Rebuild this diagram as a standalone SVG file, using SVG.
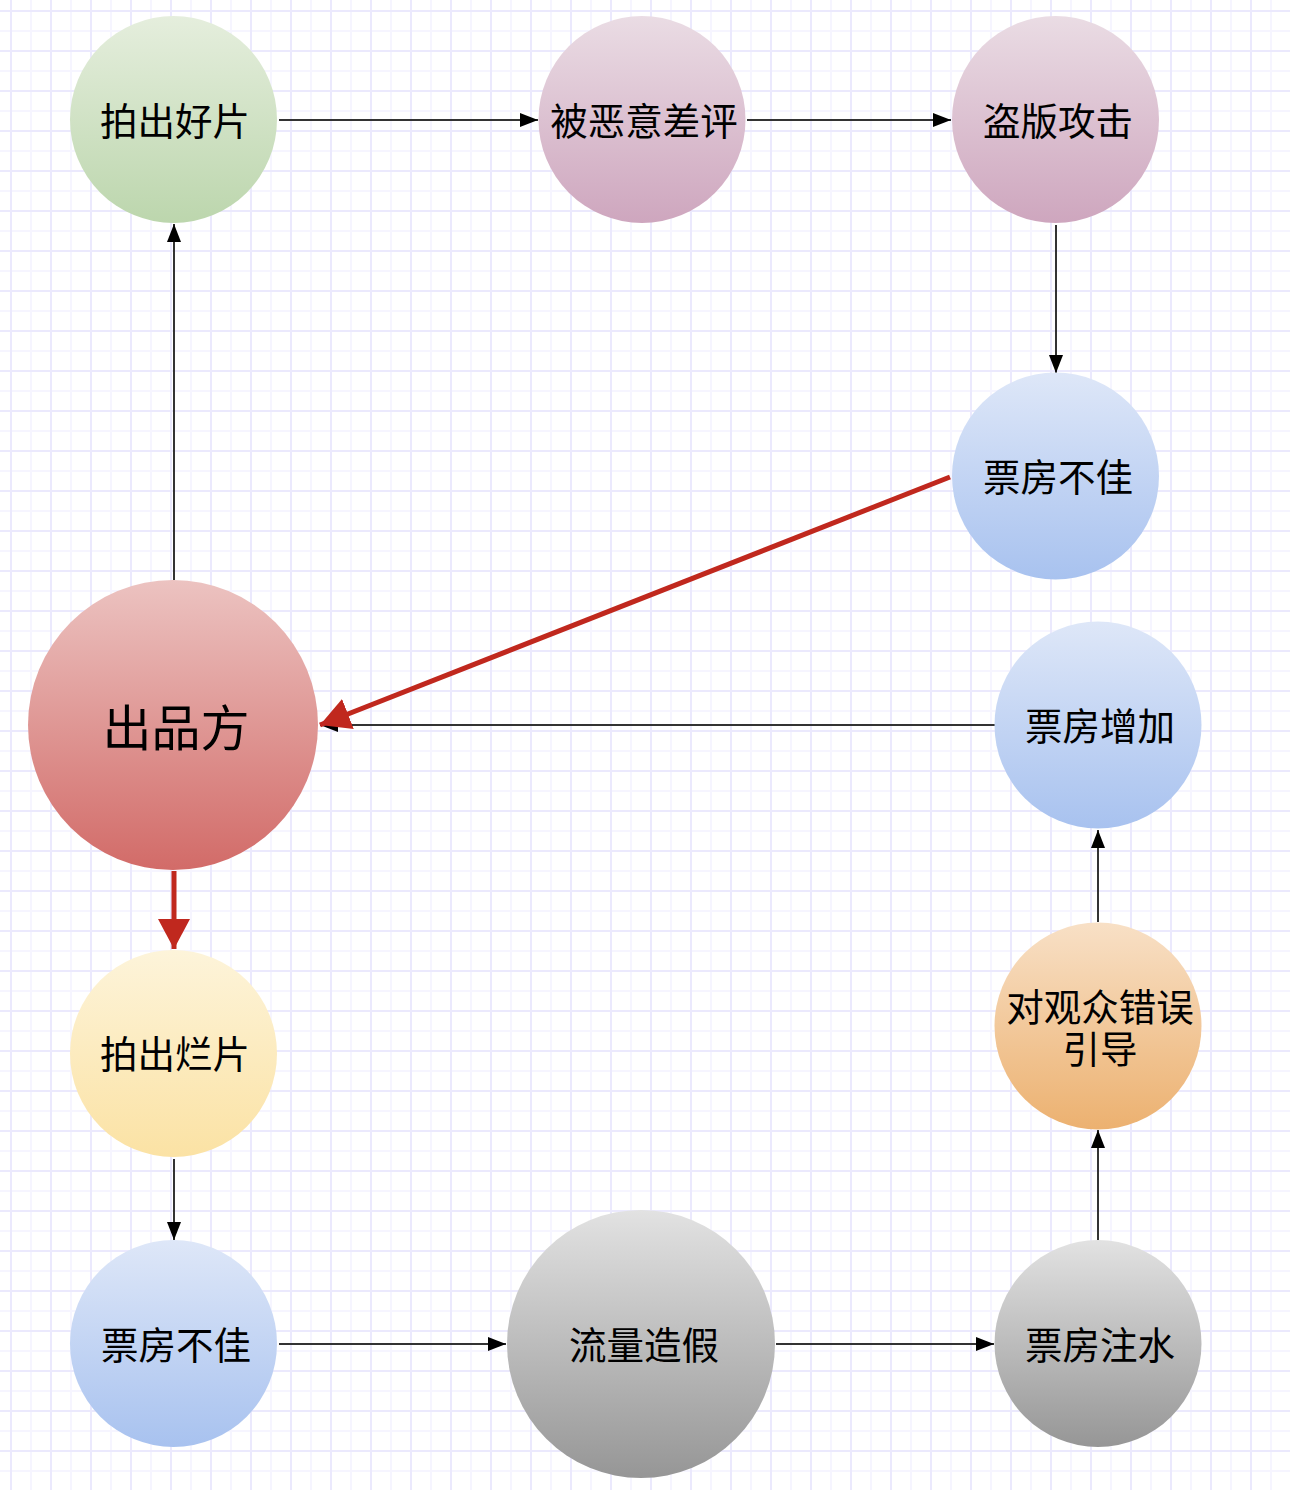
<svg xmlns="http://www.w3.org/2000/svg" width="1290" height="1490" viewBox="0 0 1290 1490">
<style>
.lbl{font-family:"Noto Sans CJK SC","Noto Sans",sans-serif;font-size:37.5px;fill:#000;text-anchor:middle;dominant-baseline:central}
.big{font-size:49px}
.edge{fill:none;stroke:#333;stroke-width:2}
.red{fill:none;stroke:#c0281e;stroke-width:5}
</style>
<defs>
<pattern id="grid" x="0" y="0" width="40" height="40" patternUnits="userSpaceOnUse">
<path d="M31 0V40M0 31H40" stroke="#f6f5ff" stroke-width="2"/>
<path d="M11 0V40M0 11H40" stroke="#ebe9fd" stroke-width="2"/>
</pattern>
<linearGradient id="gGreen" x1="0" y1="0" x2="0" y2="1"><stop offset="0" stop-color="#e5eedd"/><stop offset="1" stop-color="#bcd6ad"/></linearGradient>
<linearGradient id="gPurple" x1="0" y1="0" x2="0" y2="1"><stop offset="0" stop-color="#eadce4"/><stop offset="1" stop-color="#cea6be"/></linearGradient>
<linearGradient id="gBlue" x1="0" y1="0" x2="0" y2="1"><stop offset="0" stop-color="#dee7f8"/><stop offset="1" stop-color="#a8c2ef"/></linearGradient>
<linearGradient id="gRed" x1="0" y1="0" x2="0" y2="1"><stop offset="0" stop-color="#ecc3c1"/><stop offset="1" stop-color="#d26b68"/></linearGradient>
<linearGradient id="gYellow" x1="0" y1="0" x2="0" y2="1"><stop offset="0" stop-color="#fdf4da"/><stop offset="1" stop-color="#fbe2a4"/></linearGradient>
<linearGradient id="gOrange" x1="0" y1="0" x2="0" y2="1"><stop offset="0" stop-color="#f8e0c6"/><stop offset="1" stop-color="#ecb170"/></linearGradient>
<linearGradient id="gGray" x1="0" y1="0" x2="0" y2="1"><stop offset="0" stop-color="#e2e2e2"/><stop offset="1" stop-color="#969696"/></linearGradient>
<marker id="ah" viewBox="0 0 18 14" refX="18" refY="7" markerWidth="18" markerHeight="14" markerUnits="userSpaceOnUse" orient="auto"><path d="M0 0L18 7L0 14Z" fill="#000"/></marker>
<marker id="ahr" viewBox="0 0 30 32" refX="30" refY="16" markerWidth="30" markerHeight="32" markerUnits="userSpaceOnUse" orient="auto"><path d="M0 0L30 16L0 32L0 0Z" fill="#c0281e"/></marker>
</defs>
<rect width="1290" height="1490" fill="#fff"/>
<rect width="1290" height="1490" fill="url(#grid)"/>

<g id="connectors">
<path class="edge" d="M279 120H538" marker-end="url(#ah)"/>
<path class="edge" d="M747 120H951" marker-end="url(#ah)"/>
<path class="edge" d="M1056 225V373" marker-end="url(#ah)"/>
<path class="edge" d="M995 725H320" marker-end="url(#ah)"/>
<path class="red" d="M950 477L320 725" marker-end="url(#ahr)"/>
<path class="edge" d="M174 580V224" marker-end="url(#ah)"/>
<path class="red" d="M174 871V949" marker-end="url(#ahr)"/>
<path class="edge" d="M174 1159V1240" marker-end="url(#ah)"/>
<path class="edge" d="M279 1344H506" marker-end="url(#ah)"/>
<path class="edge" d="M776 1344H994" marker-end="url(#ah)"/>
<path class="edge" d="M1098 1240V1130" marker-end="url(#ah)"/>
<path class="edge" d="M1098 922V830" marker-end="url(#ah)"/>
</g>

<g id="n-good"><circle cx="173.5" cy="119.5" r="103.5" fill="url(#gGreen)"/><text class="lbl" x="175" y="118">拍出好片</text></g>
<g id="n-review"><circle cx="642" cy="119.5" r="103.5" fill="url(#gPurple)"/><text class="lbl" x="644" y="118">被恶意差评</text></g>
<g id="n-piracy"><circle cx="1055.5" cy="119.5" r="103.5" fill="url(#gPurple)"/><text class="lbl" x="1058" y="118">盗版攻击</text></g>
<g id="n-poor1"><circle cx="1055.5" cy="476" r="103.5" fill="url(#gBlue)"/><text class="lbl" x="1058" y="474">票房不佳</text></g>
<g id="n-producer"><circle cx="173" cy="725" r="145" fill="url(#gRed)"/><text class="lbl big" x="176" y="724">出品方</text></g>
<g id="n-increase"><circle cx="1098" cy="725" r="103.5" fill="url(#gBlue)"/><text class="lbl" x="1100" y="723">票房增加</text></g>
<g id="n-mislead"><circle cx="1098" cy="1026" r="103.5" fill="url(#gOrange)"/><text class="lbl" x="1100" y="1004">对观众错误<tspan x="1100" dy="42">引导</tspan></text></g>
<g id="n-bad"><circle cx="173.5" cy="1053.5" r="103.5" fill="url(#gYellow)"/><text class="lbl" x="175" y="1051">拍出烂片</text></g>
<g id="n-poor2"><circle cx="173.5" cy="1343.5" r="103.5" fill="url(#gBlue)"/><text class="lbl" x="176" y="1342">票房不佳</text></g>
<g id="n-fake"><circle cx="641" cy="1344" r="134" fill="url(#gGray)"/><text class="lbl" x="644" y="1342">流量造假</text></g>
<g id="n-inflate"><circle cx="1098" cy="1343.5" r="103.5" fill="url(#gGray)"/><text class="lbl" x="1100" y="1342">票房注水</text></g>
</svg>
